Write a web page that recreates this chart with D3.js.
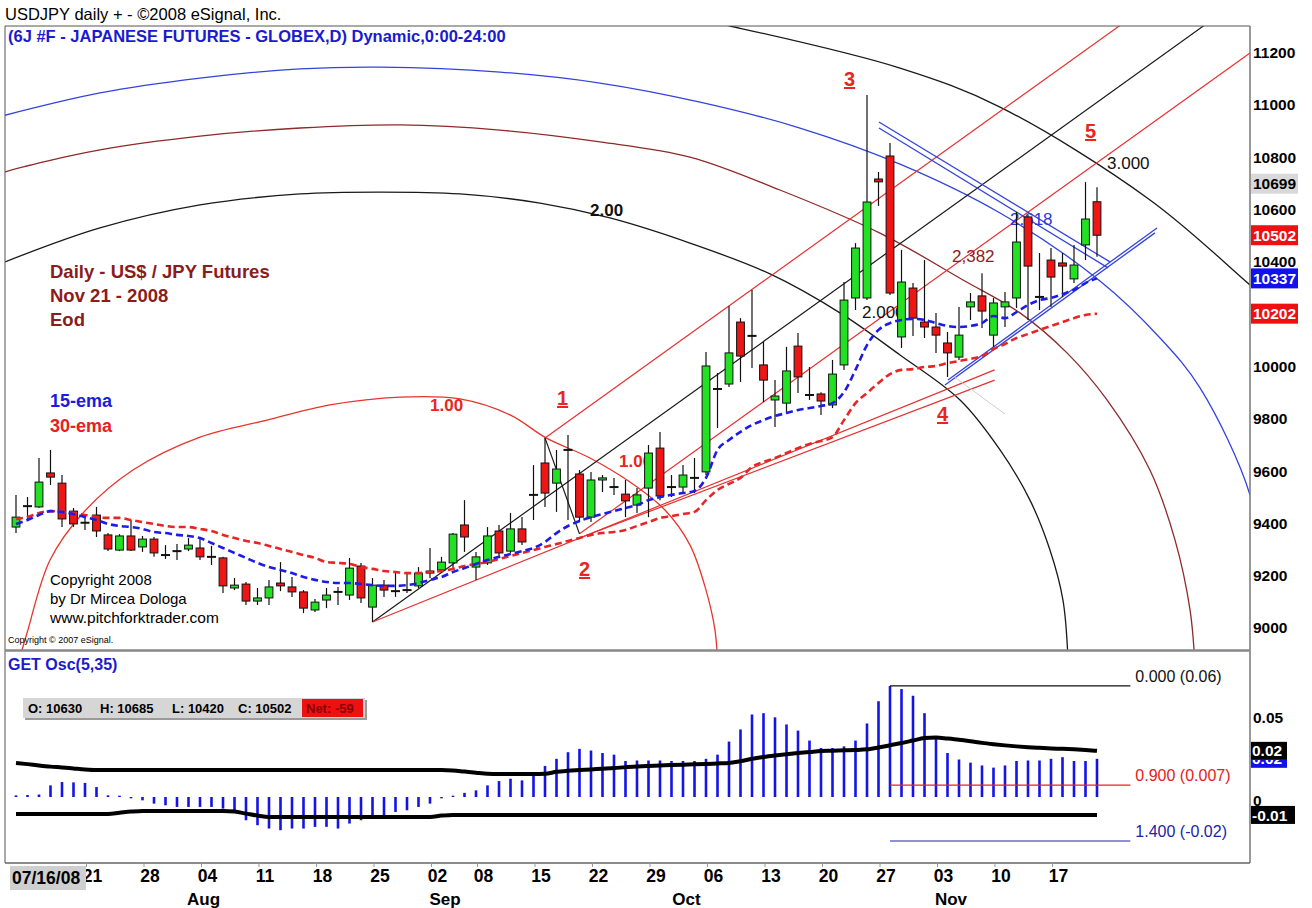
<!DOCTYPE html>
<html><head><meta charset="utf-8">
<script src="https://cdn.jsdelivr.net/npm/d3@7"></script>
<style>
body{margin:0;background:#fff}
svg{display:block}
text{font-family:"Liberation Sans",Arial,sans-serif}
.narrow{font-family:"Liberation Sans Narrow","Arial Narrow","Liberation Sans",sans-serif;font-stretch:condensed}
</style>
</head><body>
<svg id="chart" width="1312" height="908"></svg>
<script>
// ---------------- DATA ----------------
const opens =[9386,9465,9463,9593,9554,9447,9404,9432,9356,9298,9352,9310,9340,9280,9293,9302,9306,9273,9268,9153,9168,9103,9115,9172,9157,9138,9069,9107,9139,9126,9237,9080,9164,9142,9146,9161,9218,9222,9249,9394,9233,9249,9371,9294,9379,9510,9631,9554,9682,9589,9424,9566,9540,9512,9470,9535,9688,9540,9539,9575,9597,9915,9933,10170,10118,10006,9872,9860,10078,9892,9895,9853,10006,10262,10262,10717,10805,10113,10300,10170,10151,10090,10036,10228,10270,10120,10228,10262,10572,10267,10407,10396,10335,10465,10630];
const highs =[9509,9501,9650,9681,9585,9459,9424,9463,9363,9359,9413,9352,9348,9317,9321,9344,9344,9314,9272,9191,9176,9153,9184,9252,9195,9145,9111,9153,9157,9268,9249,9191,9184,9214,9210,9233,9306,9272,9363,9489,9291,9386,9394,9440,9424,9623,9727,9681,9738,9604,9597,9585,9574,9566,9535,9700,9750,9585,9623,9650,10055,9975,10231,10185,10293,10094,9948,10075,10128,9998,9902,10025,10323,10472,11038,10744,10855,10446,10319,10407,10205,10132,10228,10281,10357,10262,10285,10591,10579,10434,10453,10434,10465,10705,10685];
const lows  =[9363,9413,9459,9547,9386,9386,9375,9348,9294,9294,9294,9291,9272,9264,9260,9294,9260,9241,9134,9145,9088,9088,9088,9141,9119,9057,9061,9076,9088,9107,9096,9023,9119,9119,9134,9153,9191,9210,9222,9291,9184,9241,9272,9287,9317,9413,9463,9444,9413,9405,9405,9520,9509,9424,9440,9424,9489,9501,9516,9516,9585,9765,9922,9941,9994,9864,9769,9822,9899,9872,9815,9841,9987,10216,10254,10614,10273,10071,10117,10109,10052,9960,10025,10178,10147,10075,10151,10224,10178,10216,10228,10266,10319,10407,10420];
const closes=[9424,9467,9558,9577,9417,9398,9401,9371,9302,9352,9298,9340,9287,9278,9295,9317,9272,9271,9161,9164,9103,9115,9157,9161,9138,9076,9099,9126,9137,9229,9115,9164,9145,9140,9144,9210,9210,9252,9359,9348,9272,9352,9287,9379,9329,9508,9516,9608,9680,9424,9566,9574,9538,9486,9509,9669,9505,9538,9585,9573,10002,9913,10052,10040,10116,9948,9887,9983,9960,9890,9868,9971,10254,10453,10629,10706,10281,10323,10185,10151,10120,10052,10120,10247,10212,10243,10247,10476,10384,10265,10342,10384,10388,10564,10502];
const netChange=-59;
const ema15 =[9398,9413,9432,9447,9444,9436,9424,9413,9398,9390,9386,9379,9367,9363,9356,9352,9344,9325,9306,9287,9268,9249,9233,9222,9210,9195,9184,9176,9172,9172,9168,9164,9161,9161,9164,9172,9184,9195,9214,9229,9245,9260,9272,9283,9294,9306,9329,9363,9390,9409,9424,9436,9447,9459,9470,9489,9501,9509,9516,9524,9574,9681,9719,9750,9776,9795,9811,9822,9834,9841,9849,9860,9902,9987,10082,10140,10166,10178,10182,10178,10166,10155,10151,10155,10166,10193,10185,10208,10235,10254,10262,10277,10293,10319,10337];
const ema30 =[9417,9424,9440,9447,9444,9440,9432,9424,9421,9421,9413,9405,9398,9390,9386,9386,9379,9371,9356,9344,9333,9325,9314,9302,9291,9279,9268,9252,9249,9245,9233,9226,9218,9214,9210,9210,9214,9218,9226,9237,9245,9252,9264,9275,9287,9298,9310,9321,9333,9344,9356,9363,9367,9375,9390,9405,9421,9428,9436,9444,9489,9528,9551,9574,9616,9635,9650,9669,9688,9704,9715,9730,9795,9860,9899,9937,9971,9987,9990,9998,10002,10013,10021,10029,10040,10067,10086,10109,10124,10140,10155,10170,10185,10197,10202];
const oscHist=[0.001,0.0012,0.0015,0.007,0.009,0.0088,0.0085,0.006,0.001,0.0008,-0.0008,-0.002,-0.004,-0.005,-0.006,-0.006,-0.006,-0.006,-0.007,-0.009,-0.014,-0.017,-0.019,-0.02,-0.019,-0.019,-0.018,-0.018,-0.019,-0.016,-0.014,-0.012,-0.011,-0.009,-0.008,-0.006,-0.004,-0.0008,0.0008,0.0025,0.004,0.007,0.0096,0.011,0.010,0.0127,0.0187,0.023,0.027,0.029,0.028,0.0265,0.0255,0.0217,0.022,0.022,0.022,0.0217,0.0217,0.0217,0.023,0.0255,0.0334,0.0407,0.0497,0.0505,0.048,0.0437,0.040,0.034,0.0295,0.0295,0.0305,0.034,0.0443,0.0577,0.0669,0.065,0.061,0.0505,0.035,0.0265,0.0226,0.0207,0.019,0.0177,0.019,0.0217,0.022,0.022,0.023,0.024,0.0217,0.0217,0.023];
const oscUpper=[0.0205,0.0198,0.019,0.0183,0.0178,0.0172,0.0166,0.0163,0.0163,0.0163,0.0163,0.0163,0.0163,0.0163,0.0163,0.0163,0.0163,0.0163,0.0163,0.0163,0.0163,0.0163,0.0163,0.0163,0.0163,0.0163,0.0163,0.0163,0.0163,0.0163,0.0163,0.0163,0.0163,0.0163,0.0163,0.0163,0.0163,0.0163,0.016,0.0153,0.0146,0.014,0.0139,0.0139,0.0139,0.0139,0.014,0.0152,0.0158,0.0162,0.0166,0.017,0.0174,0.018,0.0184,0.0187,0.019,0.0193,0.0195,0.0197,0.0199,0.0202,0.0205,0.0215,0.023,0.0241,0.025,0.0258,0.0265,0.0271,0.0277,0.0279,0.0281,0.0283,0.0287,0.0298,0.0312,0.0325,0.034,0.0355,0.0358,0.0352,0.0345,0.0336,0.0326,0.0318,0.0311,0.0305,0.03,0.0296,0.0292,0.029,0.0287,0.0283,0.0278];
const oscLower=[-0.0102,-0.0102,-0.0102,-0.0102,-0.0102,-0.0102,-0.0102,-0.0102,-0.0102,-0.0095,-0.0088,-0.0084,-0.0084,-0.0084,-0.0084,-0.0084,-0.0084,-0.0084,-0.0084,-0.0088,-0.01,-0.0112,-0.012,-0.012,-0.012,-0.012,-0.012,-0.012,-0.012,-0.012,-0.012,-0.012,-0.012,-0.012,-0.012,-0.012,-0.012,-0.0112,-0.0108,-0.0108,-0.0108,-0.0108,-0.0108,-0.0108,-0.0108,-0.0108,-0.0108,-0.0108,-0.0108,-0.0108,-0.0108,-0.0108,-0.0108,-0.0108,-0.0108,-0.0108,-0.0108,-0.0108,-0.0108,-0.0108,-0.0108,-0.0108,-0.0108,-0.0108,-0.0108,-0.0108,-0.0108,-0.0108,-0.0108,-0.0108,-0.0108,-0.0108,-0.0108,-0.0108,-0.0108,-0.0108,-0.0108,-0.0108,-0.0108,-0.0108,-0.0108,-0.0108,-0.0108,-0.0108,-0.0108,-0.0108,-0.0108,-0.0108,-0.0108,-0.0108,-0.0108,-0.0108,-0.0108,-0.0108,-0.0108];
const oscLevelValues=[0.0669,0.0072,-0.0265];
const oscLevelLabels=["0.000 (0.06)","0.900 (0.007)","1.400 (-0.02)"];
const oscLevelStart=76, oscLevelEnd=96.9;
const priceTicks=[11200,11000,10800,10600,10400,10000,9800,9600,9400,9200,9000];
const oscTicks=[0.05,0];
const dateTickBars=[6,11,16,21,26,31,36,40,45,50,55,60,65,70,75,80,85,90];
const dateTickLabels=["21","28","04","11","18","25","02","08","15","22","29","06","13","20","27","03","10","17"];
const monthBars=[15,36,57,80];
const monthLabels=["Aug","Sep","Oct","Nov"];
const priceMarkers=[{v:10699,t:"10699",bg:"#d9d9d9",fg:"#000"},{v:10502,t:"10502",bg:"#ee1111",fg:"#fff"},{v:10337,t:"10337",bg:"#1111ee",fg:"#fff"},{v:10202,t:"10202",bg:"#ee1111",fg:"#fff"}];
// drawing objects (bar index, price)
const pfP0=[31,9023], pfP1=[46,9727], pfP2=[49,9360];
const arcRed=[[0.52,8916],[0.96,8981],[2.96,9260],[5.83,9440],[10.17,9604],[16.0,9730],[21.83,9795],[27.3,9853],[33.39,9883],[38.6,9876],[42.96,9815],[46.09,9727],[49.91,9650],[53.39,9558],[56.43,9451],[58.61,9317],[60.0,9145],[60.78,8992],[61.04,8839]];
const arcBlack2=[[-0.96,10400],[7.3,10530],[16.0,10618],[24.7,10660],[31.65,10667],[38.6,10660],[45.57,10625],[51.65,10568],[58.6,10472],[65.57,10354],[71.65,10205],[76.87,10044],[82.09,9872],[85.57,9681],[88.17,9489],[89.91,9298],[91.04,9107],[91.48,8878]];
const arcBlue=[[-2.26,10946],[7.3,11046],[16.0,11103],[24.7,11138],[31.65,11145],[42.09,11126],[50.78,11084],[59.48,11011],[68.17,10912],[76.87,10774],[85.57,10587],[94.26,10327],[99.48,10109],[102.96,9918],[107.3,9509],[108.3,9218]];
const arcBrown=[[-2.26,10721],[-0.96,10744],[7.3,10828],[16.0,10881],[24.7,10912],[33.39,10924],[42.09,10904],[50.78,10859],[58.6,10801],[66.43,10675],[75.13,10510],[82.35,10331],[87.3,10205],[91.39,10052],[94.87,9872],[98.6,9604],[100.78,9337],[102.09,9069],[102.52,8859]];
const arcBlack3=[[55.13,11363],[62.09,11302],[76.87,11141],[85.57,10992],[98.61,10637],[107.3,10312],[112.7,10101]];
const redRays=[[[31,9023],[85.1,9987]],[[49,9344],[85.1,9948]]];
const blueLines=[[[75.04,10935],[95.13,10400]],[[75.04,10912],[94.96,10377]],[[81.04,9948],[99.22,10530]],[[80.78,9929],[99.04,10511]]];
const grayLines=[[[81.6,9960],[86.0,9818]]];

// ---------------- SCALES ----------------
const svg=d3.select('#chart');
const x=d3.scaleLinear().domain([0,94]).range([16,1097]);
const y=d3.scaleLinear().domain([9000,11200]).range([628,52.7]);
const yo=d3.scaleLinear().domain([0,0.05]).range([797,714]);
const L=5,R=1250,T=26,MB=650,OB=863;

const defs=svg.append('defs');
defs.append('clipPath').attr('id','cm').append('rect').attr('x',L).attr('y',T).attr('width',R-L).attr('height',MB-T);
defs.append('clipPath').attr('id','co').append('rect').attr('x',L).attr('y',MB+1).attr('width',R-L).attr('height',OB-MB-1);
defs.append('clipPath').attr('id','cb').append('rect').attr('x',R).attr('y',yo(0.0278)+9).attr('width',60).attr('height',20);

// ---------------- HEADER ----------------
svg.append('text').attr('x',5).attr('y',20).attr('font-size',16.5).text('USDJPY daily + - ©2008 eSignal, Inc.');

// ---------------- MAIN PANEL ----------------
const main=svg.append('g').attr('clip-path','url(#cm)');
const curve=d3.line().x(d=>x(d[0])).y(d=>y(d[1])).curve(d3.curveCatmullRom);
const seg=d3.line().x(d=>x(d[0])).y(d=>y(d[1]));
const arcs=[{p:arcBlue,c:'#3344dd'},{p:arcBrown,c:'#8e2a2a'},{p:arcBlack2,c:'#1a1a1a'},{p:arcBlack3,c:'#1a1a1a'},{p:arcRed,c:'#e8342a'}];
main.selectAll('path.arc').data(arcs).join('path').attr('class','arc')
  .attr('d',d=>curve(d.p)).attr('fill','none').attr('stroke',d=>d.c).attr('stroke-width',1.3);

// pitchfork
const mid=[(pfP1[0]+pfP2[0])/2,(pfP1[1]+pfP2[1])/2];
const dir=[mid[0]-pfP0[0],mid[1]-pfP0[1]];
function ext(p,endBar){const t=(endBar-p[0])/dir[0];return [p,[endBar,p[1]+dir[1]*t]];}
const forkLines=[{p:ext(pfP0,120),c:'#1a1a1a'},{p:ext(pfP1,120),c:'#e83030'},{p:ext(pfP2,120),c:'#e83030'},{p:[pfP1,pfP2],c:'#1a1a1a'}];
main.selectAll('path.fork').data(forkLines).join('path').attr('class','fork')
  .attr('d',d=>seg(d.p)).attr('fill','none').attr('stroke',d=>d.c).attr('stroke-width',1.2);
main.selectAll('path.rray').data(redRays).join('path').attr('class','rray')
  .attr('d',d=>seg(d)).attr('fill','none').attr('stroke','#e83030').attr('stroke-width',1.2);
main.selectAll('path.bl').data(blueLines).join('path').attr('class','bl')
  .attr('d',d=>seg(d)).attr('fill','none').attr('stroke','#3344dd').attr('stroke-width',1.3);
main.selectAll('path.gl').data(grayLines).join('path').attr('class','gl')
  .attr('d',d=>seg(d)).attr('fill','none').attr('stroke','#cfcfcf').attr('stroke-width',1);

// labels of drawing tools
const ann=main.append('g');
function lab(t,xx,yy,o){const e=ann.append('text').attr('x',xx).attr('y',yy).attr('font-size',o.s||17).attr('font-weight',o.b?'bold':'normal').attr('fill',o.c).text(t);if(o.u)e.attr('text-decoration','underline');return e;}
lab('1',557,405,{s:20,b:1,c:'#e8261e',u:1});
lab('2',579,576,{s:20,b:1,c:'#e8261e',u:1});
lab('3',844,86,{s:20,b:1,c:'#e8261e',u:1});
lab('4',937,421,{s:20,b:1,c:'#e8261e',u:1});
lab('5',1085,138,{s:20,b:1,c:'#e8261e',u:1});
lab('1.00',430,411,{s:17,b:1,c:'#e8261e'});
lab('1.00',619,467,{s:17,b:1,c:'#e8261e'});
lab('2.00',590,216,{s:17,b:1,c:'#111'});
lab('2.000',862,318,{s:17,c:'#111'});
lab('2,382',952,262,{s:17,c:'#8e1c1c'});
lab('2.618',1010,225,{s:17,c:'#2a3ad8'});
lab('3.000',1107,169,{s:17,c:'#111'});

// candles
const idx=d3.range(opens.length);
const cg=main.append('g');
cg.selectAll('line.wick').data(idx).join('line').attr('class','wick')
  .attr('x1',i=>x(i)).attr('x2',i=>x(i)).attr('y1',i=>y(highs[i])).attr('y2',i=>y(lows[i]))
  .attr('stroke','#111').attr('stroke-width',1.2);
const bodies=idx.filter(i=>Math.abs(closes[i]-opens[i])>=5);
const dojis=idx.filter(i=>Math.abs(closes[i]-opens[i])<5);
cg.selectAll('rect.body').data(bodies).join('rect').attr('class','body')
  .attr('x',i=>x(i)-3.9).attr('width',7.8)
  .attr('y',i=>y(Math.max(opens[i],closes[i])))
  .attr('height',i=>Math.abs(y(opens[i])-y(closes[i])))
  .attr('fill',i=>closes[i]>opens[i]?'#22e022':'#ee1515').attr('stroke','#111').attr('stroke-width',1);
cg.selectAll('line.doji').data(dojis).join('line').attr('class','doji')
  .attr('x1',i=>x(i)-4.5).attr('x2',i=>x(i)+4.5).attr('y1',i=>y((opens[i]+closes[i])/2)).attr('y2',i=>y((opens[i]+closes[i])/2))
  .attr('stroke','#111').attr('stroke-width',2);

// EMAs
const eline=arr=>d3.line().x((d,i)=>x(i)).y(d=>y(d)).curve(d3.curveMonotoneX)(arr);
main.append('path').attr('d',eline(ema30)).attr('fill','none').attr('stroke','#e82424').attr('stroke-width',2.6).attr('stroke-dasharray','7,4');
main.append('path').attr('d',eline(ema15)).attr('fill','none').attr('stroke','#1c1ce6').attr('stroke-width',2.6).attr('stroke-dasharray','7,4');

// texts in main panel
const tx=svg.append('g');
function t(s,xx,yy,o){return tx.append('text').attr('x',xx).attr('y',yy).attr('font-size',o.s).attr('font-weight',o.b?'bold':'normal').attr('fill',o.c||'#000').text(s);}
t('(6J #F - JAPANESE FUTURES - GLOBEX,D) Dynamic,0:00-24:00',8,42,{s:16.5,b:1,c:'#1a1ad0'});
t('Daily - US$ / JPY Futures',50,278,{s:18.5,b:1,c:'#8b1c1c'});
t('Nov 21 - 2008',50,302,{s:18.5,b:1,c:'#8b1c1c'});
t('Eod',50,326,{s:18.5,b:1,c:'#8b1c1c'});
t('15-ema',50,407,{s:18,b:1,c:'#1c1ce0'});
t('30-ema',50,432,{s:18,b:1,c:'#e82020'});
t('Copyright 2008',50,585,{s:15});
t('by Dr Mircea Dologa',50,604,{s:15});
t('www.pitchforktrader.com',50,623,{s:15.5});
t('Copyright © 2007 eSignal.',8,643,{s:9});

// ---------------- OSC PANEL ----------------
const osc=svg.append('g').attr('clip-path','url(#co)');
osc.selectAll('line.h').data(idx).join('line').attr('class','h')
  .attr('x1',i=>x(i)).attr('x2',i=>x(i)).attr('y1',yo(0)).attr('y2',i=>yo(oscHist[i]))
  .attr('stroke','#1414e8').attr('stroke-width',2.6);
const oline=arr=>d3.line().x((d,i)=>x(i)).y(d=>yo(d)).curve(d3.curveMonotoneX)(arr);
osc.append('path').attr('d',oline(oscUpper)).attr('fill','none').attr('stroke','#000').attr('stroke-width',4);
osc.append('path').attr('d',oline(oscLower)).attr('fill','none').attr('stroke','#000').attr('stroke-width',4);
const levelColors=['#111','#e82020','#2222aa'];
osc.selectAll('line.lv').data(oscLevelValues).join('line').attr('class','lv')
  .attr('x1',x(oscLevelStart)).attr('x2',x(oscLevelEnd)).attr('y1',d=>yo(d)).attr('y2',d=>yo(d))
  .attr('stroke',(d,i)=>levelColors[i]).attr('stroke-width',1.2);
osc.selectAll('text.lv').data(oscLevelValues).join('text').attr('class','lv')
  .attr('x',x(oscLevelEnd)+5).attr('y',d=>yo(d)-10).attr('dy','0.35em')
  .attr('font-size',16).attr('fill',(d,i)=>levelColors[i]).text((d,i)=>oscLevelLabels[i]);
svg.append('text').attr('x',8).attr('y',670).attr('font-size',16).attr('font-weight','bold').attr('fill','#1a1ad0').text('GET Osc(5,35)');
// OHLC info box
const ib=svg.append('g');
ib.append('rect').attr('x',25).attr('y',700).attr('width',342).attr('height',20).attr('fill','#9a9a9a');
ib.append('rect').attr('x',23).attr('y',698).attr('width',342).attr('height',20).attr('fill','#d6d6d6');
ib.append('rect').attr('x',302).attr('y',699).attr('width',61).attr('height',18).attr('fill','#ee1111');
const last=opens.length-1;
const ohlc=[['O: '+opens[last],28],['H: '+highs[last],100],['L: '+lows[last],172],['C: '+closes[last],238]];
ohlc.forEach(d=>ib.append('text').attr('x',d[1]).attr('y',713).attr('font-size',13).attr('font-weight','bold').text(d[0]));
ib.append('text').attr('x',306).attr('y',713).attr('font-size',13).attr('font-weight','bold').attr('fill','#8a0000').text('Net: '+netChange);

// ---------------- FRAME ----------------
svg.append('line').attr('x1',L).attr('x2',R).attr('y1',T).attr('y2',T).attr('stroke','#555');
svg.append('line').attr('x1',L).attr('x2',L).attr('y1',T).attr('y2',OB).attr('stroke','#555');
svg.append('line').attr('x1',R).attr('x2',R).attr('y1',T).attr('y2',OB).attr('stroke','#777').attr('stroke-width',1.5);
svg.append('line').attr('x1',L).attr('x2',R).attr('y1',MB+0.5).attr('y2',MB+0.5).attr('stroke','#888').attr('stroke-width',2.5);
svg.append('line').attr('x1',L).attr('x2',R).attr('y1',OB).attr('y2',OB).attr('stroke','#666').attr('stroke-width',1.5);

// ---------------- AXES ----------------
const ax=svg.append('g').attr('transform',`translate(${R},0)`)
  .call(d3.axisRight(y).tickValues(priceTicks).tickSize(0).tickPadding(3).tickFormat(d3.format('d')));
ax.select('.domain').remove();
ax.selectAll('text').attr('font-size',15.5).attr('font-weight','bold').attr('font-family','Liberation Sans, Arial').attr('fill','#000');
const mk=svg.append('g');
priceMarkers.forEach(m=>{
  mk.append('rect').attr('x',R+1).attr('y',y(m.v)-10).attr('width',47).attr('height',20).attr('fill',m.bg);
  mk.append('text').attr('x',R+3).attr('y',y(m.v)).attr('dy','0.36em').attr('font-size',15.5).attr('font-weight','bold').attr('fill',m.fg).text(m.t);
});
const axo=svg.append('g').attr('transform',`translate(${R},0)`)
  .call(d3.axisRight(yo).tickValues(oscTicks).tickSize(0).tickPadding(3).tickFormat(d=>d===0?'0':d3.format('.2f')(d)));
axo.select('.domain').remove();
axo.selectAll('text').attr('font-size',15.5).attr('font-weight','bold').attr('font-family','Liberation Sans, Arial').attr('fill','#000').attr('dy','0.55em');
// histogram marker (mostly hidden behind the upper-band marker, as in the source)
const hb=mk.append('g').attr('clip-path','url(#cb)');
hb.append('rect').attr('x',R+1).attr('y',yo(oscHist[last])-9).attr('width',36).attr('height',18).attr('fill','#1111ee');
hb.append('text').attr('x',R+2).attr('y',yo(oscHist[last])).attr('dy','0.36em').attr('font-size',15.5).attr('font-weight','bold').attr('fill','#fff').text('0.02');
const oscMarkers=[{v:oscUpper[last],t:'0.02'},{v:oscLower[last],t:'-0.01'}];
oscMarkers.forEach(m=>{
  mk.append('rect').attr('x',R+1).attr('y',yo(m.v)-9).attr('width',m.t.length>4?44:36).attr('height',18).attr('fill','#000');
  mk.append('text').attr('x',R+2).attr('y',yo(m.v)).attr('dy','0.36em').attr('font-size',15.5).attr('font-weight','bold').attr('fill','#fff').text(m.t);
});

// date axis
const bx=svg.append('g').attr('transform',`translate(0,${OB})`)
  .call(d3.axisBottom(x).tickValues(dateTickBars).tickSize(4).tickFormat((d,i)=>dateTickLabels[i]));
bx.select('.domain').remove();
bx.selectAll('line').attr('stroke','#999').attr('transform','translate(1,0)');
bx.selectAll('text').attr('class','narrow').attr('x',7).attr('y',7).attr('font-size',17.5).attr('font-weight','bold').attr('fill','#000');
svg.append('rect').attr('x',10).attr('y',866).attr('width',76).attr('height',24).attr('fill','#cfcfcf');
svg.append('text').attr('class','narrow').attr('x',12).attr('y',884).attr('font-size',17.5).attr('font-weight','bold').text('07/16/08');
svg.selectAll('text.mon').data(monthBars).join('text').attr('class','mon narrow')
  .attr('x',d=>x(d)+15).attr('y',905).attr('text-anchor','middle').attr('font-size',17).attr('font-weight','bold').text((d,i)=>monthLabels[i]);
</script>
</body></html>
